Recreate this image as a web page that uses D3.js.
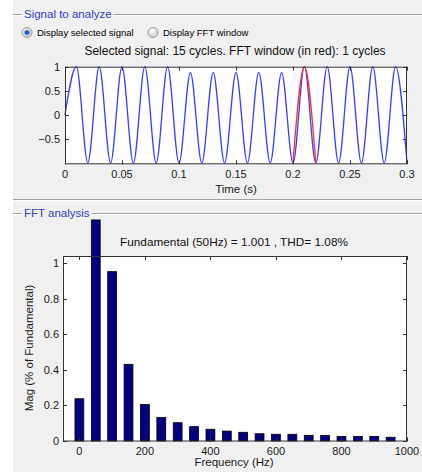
<!DOCTYPE html>
<html>
<head>
<meta charset="utf-8">
<script src="https://cdn.jsdelivr.net/npm/d3@7"></script>
<style>
  body { margin: 0; background: #f0f0f0; }
  svg text { font-family: "Liberation Sans", Arial, sans-serif; }
</style>
</head>
<body>
<div id="container"></div>
<script>
// signal: peaks / troughs of the selected signal (s, value)
var sigT = [0, 0.01, 0.02, 0.03, 0.04, 0.05, 0.06, 0.07, 0.08, 0.09, 0.10,
  0.11, 0.12, 0.13, 0.14, 0.15, 0.16, 0.17, 0.18, 0.19, 0.20,
  0.21, 0.22, 0.23, 0.24, 0.25, 0.26, 0.27, 0.28, 0.29, 0.30];
var sigV = [0, 1, -1, 1, -1, 1, -1, 1, -1, 1, -1,
  0.88, -1, 0.88, -1, 0.88, -1, 0.88, -1, 0.88, -1,
  1, -1, 1, -1, 1, -1, 1, -1, 1, -1];
var fftWindow = [0.2, 0.22];
var timeTicks = [0, 0.05, 0.1, 0.15, 0.2, 0.25, 0.3];
var sigTicks = [-0.5, 0, 0.5, 1];

// FFT harmonics
var freqs = [0, 50, 100, 150, 200, 250, 300, 350, 400, 450, 500,
  550, 600, 650, 700, 750, 800, 850, 900, 950];
var mags = [0.238, 1.245, 0.954, 0.432, 0.205, 0.133, 0.103, 0.081, 0.066, 0.056, 0.049,
  0.041, 0.038, 0.038, 0.032, 0.032, 0.026, 0.026, 0.026, 0.021];
var freqTicks = [0, 200, 400, 600, 800, 1000];
var magTicks = [0, 0.2, 0.4, 0.6, 0.8, 1];

var width = 422, height = 472;
var svg = d3.select("#container").append("svg")
  .attr("width", width).attr("height", height);

// left white strip
svg.append("rect").attr("x", 0).attr("y", 0).attr("width", 13).attr("height", height).attr("fill", "#fff");

// group box lines
function groupLine(x1, x2, y) {
  svg.append("line").attr("x1", x1).attr("x2", x2).attr("y1", y + 0.5).attr("y2", y + 0.5).attr("stroke", "#a0a0a0");
  svg.append("line").attr("x1", x1).attr("x2", x2).attr("y1", y + 1.5).attr("y2", y + 1.5).attr("stroke", "#fff");
}
function groupTitle(label, y) {
  groupLine(13, 22, y);
  var t = svg.append("text").attr("x", 24).attr("y", y + 4).attr("font-size", "11.5px")
    .attr("fill", "#3040c0").text(label);
  var w = t.node().getComputedTextLength();
  groupLine(24 + w + 2, width, y);
}
groupTitle("Signal to analyze", 14);
groupLine(13, width, 199);
groupTitle("FFT analysis", 213);

// radio buttons
var grad = svg.append("defs").append("radialGradient").attr("id", "rb").attr("cx", "40%").attr("cy", "35%");
grad.append("stop").attr("offset", "0%").attr("stop-color", "#fff");
grad.append("stop").attr("offset", "100%").attr("stop-color", "#d4d4d4");
function radio(x, label, on) {
  svg.append("circle").attr("cx", x).attr("cy", 32.5).attr("r", 5).attr("fill", "url(#rb)").attr("stroke", "#9a9a9a");
  if (on) {
    svg.append("circle").attr("cx", x).attr("cy", 32.5).attr("r", 2.6).attr("fill", "#1d5cab").attr("stroke", "#8fb4df");
  }
  svg.append("text").attr("x", x + 10).attr("y", 36).attr("font-size", "9.5px").attr("fill", "#000").text(label);
}
radio(27, "Display selected signal", true);
radio(153, "Display FFT window", false);

// ---------- top axes ----------
var x1 = d3.scaleLinear().domain([0, 0.3]).range([65, 407]);
var y1 = d3.scaleLinear().domain([-1.02, 1]).range([164, 66.7]);

svg.append("rect").attr("x", 65).attr("y", 66.7).attr("width", 342).attr("height", 97.3).attr("fill", "#fff");

var pts = sigT.map(function(t, i) { return [t, sigV[i]]; });
var line1 = d3.line().x(function(d) { return x1(d[0]); }).y(function(d) { return y1(d[1]); })
  .curve(d3.curveMonotoneX);
svg.append("path").datum(pts).attr("d", line1).attr("fill", "none").attr("stroke", "#3c3cff").attr("stroke-width", 1.3);
var redPts = pts.filter(function(d) { return d[0] >= fftWindow[0] - 1e-9 && d[0] <= fftWindow[1] + 1e-9; });
svg.append("path").datum(redPts).attr("d", line1).attr("fill", "none").attr("stroke", "#ff3030").attr("stroke-width", 1.3);

function frame(x0, xw, yt, yb, xs, ys, xt, yt2) {
  var g = svg.append("g");
  g.append("rect").attr("x", x0 + 0.5).attr("y", yt + 0.5).attr("width", xw - x0 - 1).attr("height", yb - yt - 1)
    .attr("fill", "none").attr("stroke", "#333");
  xt.forEach(function(v) {
    var px = Math.round(xs(v)) + 0.5;
    g.append("line").attr("x1", px).attr("x2", px).attr("y1", yb).attr("y2", yb - 4).attr("stroke", "#333");
    g.append("line").attr("x1", px).attr("x2", px).attr("y1", yt).attr("y2", yt + 4).attr("stroke", "#333");
  });
  yt2.forEach(function(v) {
    var py = Math.round(ys(v)) + 0.5;
    g.append("line").attr("x1", x0).attr("x2", x0 + 4).attr("y1", py).attr("y2", py).attr("stroke", "#333");
    g.append("line").attr("x1", xw).attr("x2", xw - 4).attr("y1", py).attr("y2", py).attr("stroke", "#333");
  });
  return g;
}

frame(65, 407, 66.7, 164.3, x1, y1, timeTicks, sigTicks);
svg.append("g").selectAll("text").data(timeTicks).enter().append("text")
  .attr("x", function(d) { return x1(d); }).attr("y", 177.5).attr("text-anchor", "middle")
  .attr("font-size", "11px").attr("fill", "#1a1a1a").text(function(d) { return d3.format("~g")(d); });
svg.append("g").selectAll("text").data(sigTicks).enter().append("text")
  .attr("x", 60).attr("y", function(d) { return y1(d) + 4; }).attr("text-anchor", "end")
  .attr("font-size", "11px").attr("fill", "#1a1a1a").text(function(d) { return d3.format("~g")(d); });
svg.append("text").attr("x", 236).attr("y", 193).attr("text-anchor", "middle").attr("font-size", "11.5px")
  .attr("fill", "#1a1a1a").text("Time (s)");
svg.append("text").attr("x", 235).attr("y", 55).attr("text-anchor", "middle").attr("font-size", "12px")
  .attr("fill", "#111").text("Selected signal: 15 cycles. FFT window (in red): 1 cycles");

// ---------- bottom axes ----------
var x2 = d3.scaleLinear().domain([-50, 1000]).range([63, 407]);
var y2 = d3.scaleLinear().domain([0, 1.042]).range([441, 256]);
var barW = x2(27) - x2(0);

svg.append("rect").attr("x", 63).attr("y", 256).attr("width", 344).attr("height", 185).attr("fill", "#fff");
svg.append("g").selectAll("rect").data(freqs).enter().append("rect")
  .attr("x", function(d) { return x2(d) - barW / 2; })
  .attr("y", function(d, i) { return y2(mags[i]); })
  .attr("width", barW)
  .attr("height", function(d, i) { return y2(0) - y2(mags[i]); })
  .attr("fill", "#000080").attr("stroke", "#000").attr("stroke-width", 0.8);

frame(63, 407, 256, 441.5, x2, y2, freqTicks, magTicks);
svg.append("g").selectAll("text").data(freqTicks).enter().append("text")
  .attr("x", function(d) { return x2(d); }).attr("y", 455).attr("text-anchor", "middle")
  .attr("font-size", "11px").attr("fill", "#1a1a1a").text(function(d) { return d; });
svg.append("g").selectAll("text").data(magTicks).enter().append("text")
  .attr("x", 59).attr("y", function(d) { return y2(d) + 4; }).attr("text-anchor", "end")
  .attr("font-size", "11px").attr("fill", "#1a1a1a").text(function(d) { return d3.format("~g")(d); });
svg.append("text").attr("x", 234).attr("y", 466).attr("text-anchor", "middle").attr("font-size", "11.5px")
  .attr("fill", "#1a1a1a").text("Frequency (Hz)");
svg.append("text").attr("transform", "translate(33,348) rotate(-90)").attr("text-anchor", "middle")
  .attr("font-size", "11.5px").attr("fill", "#1a1a1a").text("Mag (% of Fundamental)");
svg.append("text").attr("x", 234).attr("y", 246).attr("text-anchor", "middle").attr("font-size", "11.8px")
  .attr("fill", "#111").text("Fundamental (50Hz) = 1.001 , THD= 1.08%");
</script>
</body>
</html>
